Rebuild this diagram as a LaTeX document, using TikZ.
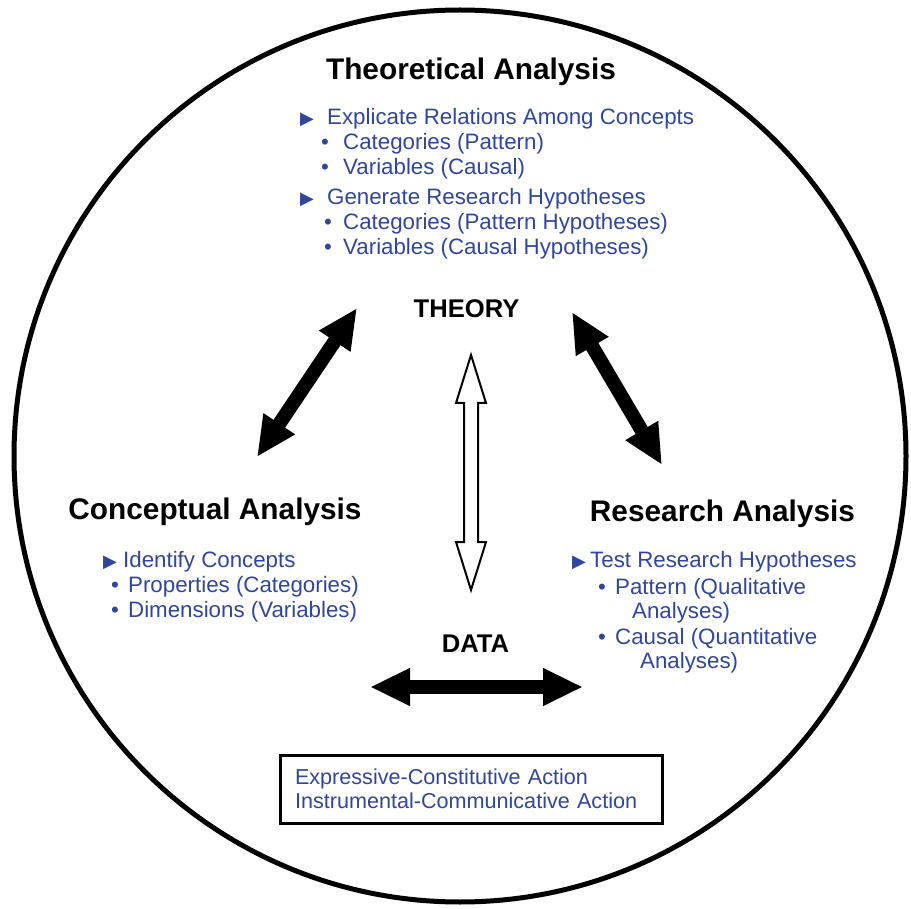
\documentclass[tikz,border=0pt]{standalone}
\usepackage{fontspec}
\setmainfont{Liberation Sans}
\newfontfamily\symfont{DejaVu Sans}
\usetikzlibrary{arrows.meta,calc}
\definecolor{txtblue}{RGB}{48,70,158}
\newcommand\tri{{\symfont\fontsize{18}{18}\selectfont ▶}}
\begin{document}
\begin{tikzpicture}[x=1pt,y=-1pt,
  hdr/.style={font=\bfseries\fontsize{29.8}{32}\selectfont, inner sep=0pt, anchor=base},
  hdrsmall/.style={font=\bfseries\fontsize{25.6}{28}\selectfont, inner sep=0pt, anchor=base},
  item/.style={text=txtblue, font=\fontsize{22.3}{25}\selectfont, inner sep=0pt, anchor=base west},
  bigarrow/.style={line width=14pt, {Triangle[length=40pt,width=35pt]}-{Triangle[length=40pt,width=35pt]}},
  openarrow/.style={draw=black, fill=white, line width=2pt, line join=miter}
]
\useasboundingbox (0,0) rectangle (911,909);
\fill[white] (0,0) rectangle (911,909);

% outer circle
\node[circle, draw, line width=5pt, minimum size=892pt, inner sep=0pt] (ring) at (460,456) {};

% headings
\node[hdr] (theo) at (471,80) {Theoretical Analysis};
\node[hdrsmall] (theory) at (466.5,318) {THEORY};
\node[hdr] (conc) at (215,519) {Conceptual Analysis};
\node[hdr] (res) at (722.5,521) {Research Analysis};
\node[hdrsmall] (data) at (475.5,652) {DATA};

% top list
\node[item] (t1) at (300,125) {\makebox[27pt][l]{\tri}Explicate Relations Among Concepts};
\node[item] (t2) at (321,150) {\makebox[22pt][l]{•}Categories (Pattern)};
\node[item] (t3) at (321,175) {\makebox[22pt][l]{•}Variables (Causal)};
\node[item] (t4) at (300,205) {\makebox[27pt][l]{\tri}Generate Research Hypotheses};
\node[item] (t5) at (324,230) {\makebox[19pt][l]{•}Categories (Pattern Hypotheses)};
\node[item] (t6) at (324,255) {\makebox[19pt][l]{•}Variables (Causal Hypotheses)};

% left list
\node[item] (l1) at (103,567) {\makebox[20pt][l]{\tri}Identify Concepts};
\node[item] (l2) at (111,592) {\makebox[17pt][l]{•}Properties (Categories)};
\node[item] (l3) at (111,617) {\makebox[17pt][l]{•}Dimensions (Variables)};

% right list
\node[item] (r1) at (572,567) {\makebox[18pt][l]{\tri}Test Research Hypotheses};
\node[item] (r2) at (598,594) {\makebox[17pt][l]{•}Pattern (Qualitative};
\node[item] (r3) at (632,618) {Analyses)};
\node[item] (r4) at (598,644) {\makebox[17pt][l]{•}Causal (Quantitative};
\node[item] (r5) at (640,668) {Analyses)};

% box
\node[draw, line width=3pt, minimum width=382pt, minimum height=68pt, inner xsep=14pt,
      text width=352pt, align=left, text=txtblue, font=\fontsize{21.6}{24}\selectfont] (box) at (471,789)
  {Expressive-Constitutive Action\\Instrumental-Communicative Action};

% arrows
\coordinate (la1) at (257,457);
\coordinate (la2) at (357,308);
\coordinate (ra1) at (572,312);
\coordinate (ra2) at (662,465);
\coordinate (ha1) at (370,687);
\coordinate (ha2) at (583,687);
\coordinate (mt) at (471,355);
\coordinate (mb) at (471,590);

\draw[bigarrow] (la1) -- (la2);
\draw[bigarrow] (ra1) -- (ra2);
\draw[bigarrow] (ha1) -- (ha2);

\draw[openarrow] (mt) -- ($(mt)+(15,48)$) -- ($(mt)+(7,48)$) -- ($(mb)+(7,-48)$)
  -- ($(mb)+(15,-48)$) -- (mb) -- ($(mb)+(-15,-48)$) -- ($(mb)+(-7,-48)$)
  -- ($(mt)+(-7,48)$) -- ($(mt)+(-15,48)$) -- cycle;
\end{tikzpicture}
\end{document}
